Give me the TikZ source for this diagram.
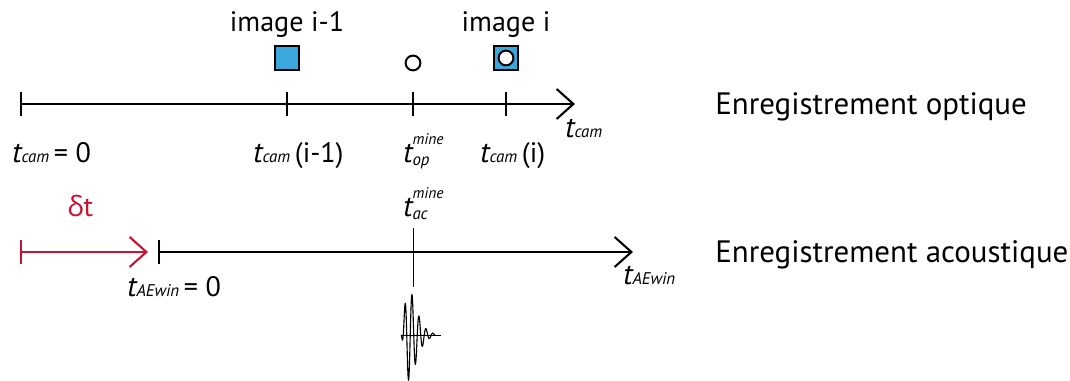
\documentclass[tikz,border=0pt]{standalone}
\usepackage{fontspec}
\setmainfont{PT Sans}
\newfontfamily\grfont{Open Sans}
\usepackage{tikz}
\usetikzlibrary{arrows.meta}
\definecolor{camblue}{RGB}{58,168,220}
\definecolor{deltared}{RGB}{200,20,50}
\tikzstyle{axisline} = [draw, line width=1.5pt, {Bar[width=0.6cm]}-{Straight Barb[length=0.42cm,width=0.75cm]}]
\tikzstyle{tickmark} = [draw, line width=1.5pt]
\tikzstyle{frame} = [draw, line width=1.4pt, fill=camblue, minimum size=0.58cm, inner sep=0pt]
\tikzstyle{dot} = [draw, circle, line width=1.4pt, fill=white, minimum size=0.37cm, inner sep=0pt]
\tikzstyle{lbl} = [anchor=base west, inner sep=0pt]
\tikzstyle{title} = [anchor=base, inner sep=0pt, font=\fontsize{20}{20}\selectfont]
\newcommand{\tvar}[1]{{\fontsize{21}{21}\selectfont\itshape t}{\fontsize{12}{12}\selectfont\itshape #1}}
\newcommand{\tmine}[1]{{\fontsize{21}{21}\selectfont\itshape t}\rlap{\raisebox{13pt}{\fontsize{11}{11}\selectfont\itshape mine}}\raisebox{-2pt}{\fontsize{12}{12}\selectfont\itshape #1}}

\begin{document}
\begin{tikzpicture}
	\useasboundingbox (0,0) rectangle (26.75,9.525);

	% nodes
	\coordinate (O0) at (0.5,6.925);
	\coordinate (O1) at (7.175,6.925);
	\coordinate (Om) at (10.325,6.925);
	\coordinate (Oi) at (12.65,6.925);
	\coordinate (Oend) at (14.375,6.925);
	\coordinate (D0) at (0.5,3.225);
	\coordinate (Dend) at (3.7,3.225);
	\coordinate (A0) at (3.95,3.225);
	\coordinate (Aend) at (15.825,3.225);
	\coordinate (Mtop) at (10.325,3.825);
	\coordinate (Mbot) at (10.325,2.35);
	\coordinate (W0) at (10.025,1.15);
	\coordinate (W1) at (11.025,1.15);

	\node[frame] (Q1) at (7.175,8.075) {};
	\node[dot] (C1) at (10.325,7.95) {};
	\node[frame] (Qi) at (12.65,8.075) {};
	\node[dot] (Ci) at (Qi) {};
	\node[title] (Ti1) at (7.175,8.725) {image i-1};
	\node[title] (Tii) at (12.65,8.725) {image i};

	\node[lbl, font=\fontsize{20}{20}\selectfont] (L0) at (0.3,5.45) {\tvar{cam}\,= 0};
	\node[lbl, font=\fontsize{20}{20}\selectfont] (L1) at (6.325,5.45) {\tvar{cam}\,(i-1)};
	\node[lbl] (Lm) at (10.075,5.45) {\tmine{op}};
	\node[lbl, font=\fontsize{20}{20}\selectfont] (Li) at (12.0,5.45) {\tvar{cam}\,(i)};
	\node[lbl] (Lend) at (14.125,6.075) {\tvar{cam}};

	\node[lbl, text=deltared, font=\fontsize{20}{20}\selectfont] (Ld) at (1.675,4.1) {{\grfont δ}t};
	\node[lbl] (Lac) at (10.075,4.1) {\tmine{ac}};
	\node[lbl, font=\fontsize{20}{20}\selectfont] (LA0) at (3.175,2.1) {\tvar{AEwin}\,= 0};
	\node[lbl] (LAend) at (15.575,2.4) {\tvar{AEwin}};

	\node[lbl, font=\fontsize{22}{22}\selectfont] (Eopt) at (17.875,6.65) {Enregistrement optique};
	\node[lbl, font=\fontsize{22}{22}\selectfont] (Eac) at (17.875,2.95) {Enregistrement acoustique};

	% arrows
	\draw[axisline] (O0) -- (Oend);
	\foreach \c in {O1,Om,Oi}
		\draw[tickmark] ([yshift=0.3cm]\c) -- ([yshift=-0.3cm]\c);
	\draw[axisline, deltared] (D0) -- (Dend);
	\draw[axisline] (A0) -- (Aend);
	\draw[line width=0.7pt] (Mtop) -- (Mbot);

	% signal
	\draw[line width=0.6pt] (W0) -- (W1);
	\draw[line width=0.8pt, shift={(W0)}] plot[domain=0:34, samples=300, smooth]
		({\x*0.025}, {1.125*(\x/8)^2*exp(2-\x/4)*sin(360*(\x-2.25)/7)});

\end{tikzpicture}
\end{document}
